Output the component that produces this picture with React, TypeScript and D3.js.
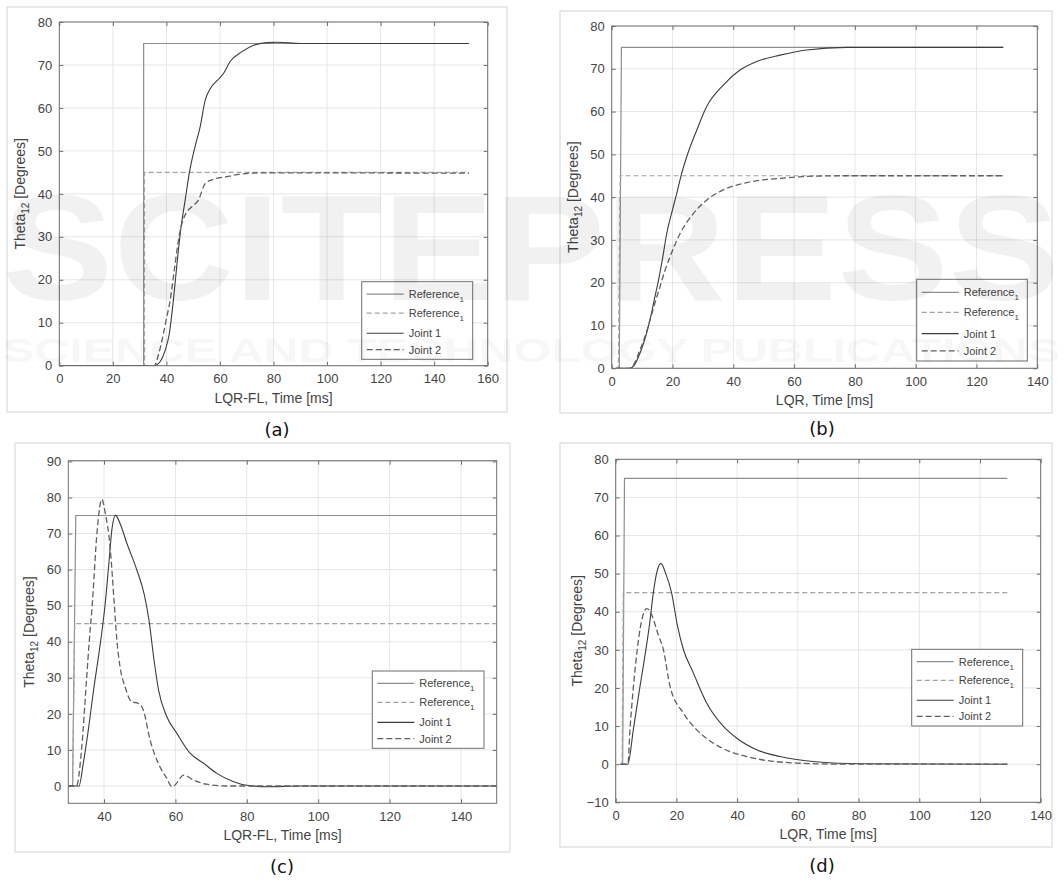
import React, { useEffect, useRef } from 'react';
import * as d3 from 'd3';

// ---- panel (a): LQR-FL, reference step at ~31.5 ms
const aRef1Time = [1, 31.5, 31.5, 153];
const aRef1 = [0, 0, 75, 75];
const aRef2Time = [1, 31.8, 31.8, 153];
const aRef2 = [0, 0, 45, 45];
const aJoint1Time = [1, 35.5, 37.5, 39.5, 41.1, 42.6, 44, 45.5, 47, 48.6, 50.7, 52.6, 54.5, 56.5, 59, 61.5, 63.8, 68.2, 72.6, 77.5, 81.3, 90, 153];
const aJoint1 = [0, 0, 0.8, 3.5, 7.5, 15.2, 24, 32.4, 38.5, 45, 51, 55.6, 61.8, 64.6, 66.4, 68.2, 70.8, 73.1, 74.6, 75.2, 75.3, 75, 75];
const aJoint2Time = [1, 35.5, 37, 38.9, 40.2, 41.4, 43, 44.2, 45.5, 47, 49.5, 51.9, 54.5, 57.6, 62.6, 67.6, 77.5, 153];
const aJoint2 = [0, 0, 2.5, 7.5, 11.5, 15.2, 22.5, 28, 32.4, 35.1, 37, 38.5, 42.4, 43.4, 44.0, 44.6, 44.9, 44.8];

// ---- panel (b): LQR
const bRef1Time = [1.5, 2.5, 3.2, 128.8];
const bRef1 = [0, 0, 75, 75];
const bRef2Time = [1.5, 2.2, 2.8, 128.8];
const bRef2 = [0, 0, 45, 45];
const bJoint1Time = [1.5, 6, 7.5, 9.3, 11, 12.6, 14, 15.4, 16.8, 18.1, 19.8, 21.4, 23, 24.7, 28, 31.2, 36.7, 42.2, 47.7, 55.4, 64.1, 77.3, 128.8];
const bJoint1 = [0, 0, 0.8, 3.5, 7, 11.3, 16, 20.6, 26, 31.5, 36.5, 40.9, 45.5, 49.5, 55.7, 61.1, 66.2, 69.7, 71.7, 73.2, 74.4, 75, 75];
const bJoint2Time = [1.5, 6, 7.5, 9.3, 11, 12.6, 14.2, 15.9, 17.5, 19.2, 22.5, 26.9, 31.2, 36.7, 44.4, 55.4, 66.3, 77, 128.8];
const bJoint2 = [0, 0, 1.2, 4.3, 7.5, 11.3, 15.2, 19.1, 22.8, 26.1, 31.5, 36.2, 39.3, 41.7, 43.4, 44.4, 44.9, 45, 45];

// ---- panel (c): LQR-FL, overshooting response
const cRef1Time = [30, 31.2, 32.1, 150];
const cRef1 = [0, 0, 75, 75];
const cRef2Time = [30, 31.2, 31.8, 150];
const cRef2 = [0, 0, 45, 45];
const cJoint1Time = [30, 33, 34.2, 35.6, 37, 39.1, 40.3, 41.3, 42.2, 43.2, 44.5, 46.4, 49.2, 51.3, 52.6, 54, 55.3, 57.6, 60.4, 64.1, 67.9, 71.6, 76.3, 80, 85.6, 94.9, 150];
const cJoint1 = [0, 0, 6.3, 15.5, 26, 40.5, 50.2, 61, 71, 75.1, 72.8, 67.3, 59.9, 53, 46, 35, 26.5, 19.2, 14.6, 9.1, 6.3, 3.5, 1.2, 0.2, -0.2, 0, 0];
const cJoint2Time = [30, 32.3, 33.7, 35.1, 35.9, 36.7, 38.1, 39.4, 40.3, 41.7, 42.9, 43.6, 44.5, 45.9, 47.7, 49.6, 51, 52.9, 55.2, 57.6, 59, 59.9, 62.3, 65, 68.7, 74.4, 150];
const cJoint2 = [0, 0, 10, 29.4, 40.5, 50.2, 71, 79.5, 76, 66.3, 50.2, 40.5, 33, 27.5, 23.4, 22.9, 21.1, 12.8, 6.3, 2.1, -0.2, 0.3, 3.0, 1.7, 0.5, 0, 0];

// ---- panel (d): LQR, overshooting response
const dRef1Time = [1.6, 2.3, 2.9, 129];
const dRef1 = [0, 0, 75, 75];
const dRef2Time = [1.6, 2.1, 2.5, 129];
const dRef2 = [0, 0, 45, 45];
const dJoint1Time = [1.6, 4, 5.8, 8, 8.9, 11.2, 12.4, 13.6, 14.9, 16.4, 18.4, 20.3, 22.3, 25.6, 30, 35.5, 39.9, 46.4, 54.1, 65.1, 81.6, 129];
const dJoint1 = [0, 0, 9, 20.4, 24.8, 37, 45, 50.5, 52.7, 50.2, 45, 36.5, 30.1, 23.9, 16, 9.9, 6.8, 3.8, 2.0, 0.7, 0.1, 0];
const dJoint2Time = [1.6, 4, 4.7, 5.8, 7.1, 8.5, 10.2, 11.3, 12.4, 14, 15.7, 17.9, 22.3, 26.7, 32.2, 37.7, 43.2, 48.6, 59.6, 75, 129];
const dJoint2 = [0, 0, 9, 20, 30.1, 37.5, 40.8, 40.2, 38, 34, 30.1, 20.4, 13.4, 9.0, 5.5, 3.3, 2.0, 1.1, 0.3, 0, 0];

const ticks0to160 = [0, 20, 40, 60, 80, 100, 120, 140, 160];
const ticks0to140 = [0, 20, 40, 60, 80, 100, 120, 140];
const ticks40to140 = [40, 60, 80, 100, 120, 140];
const ticks0to80 = [0, 10, 20, 30, 40, 50, 60, 70, 80];
const ticks0to90 = [0, 10, 20, 30, 40, 50, 60, 70, 80, 90];
const ticksM10to80 = [-10, 0, 10, 20, 30, 40, 50, 60, 70, 80];

const legendLabels = ['Reference', 'Reference', 'Joint 1', 'Joint 2'];
const legendSubs = ['1', '1', '', ''];

const zip = (t: number[], v: number[]) => t.map((x, i) => [x, v[i]] as [number, number]);

const FONT = "'Liberation Sans', Arial, Helvetica, sans-serif";

const styles = [
  { color: '#8e8e8e', dash: null, width: 1.2 },
  { color: '#a2a2a2', dash: '5,3', width: 1.2 },
  { color: '#3c3c3c', dash: null, width: 1.1 },
  { color: '#606060', dash: '6,3', width: 1.3 },
];

const panels = [
  {
    id: 'a', caption: '(a)', xlabel: 'LQR-FL, Time [ms]',
    frame: { x: 7, y: 7, w: 500, h: 405 }, plot: { x: 59.3, y: 22, w: 428.4, h: 343.7 },
    xDomain: [0, 160], xTicks: ticks0to160, yDomain: [0, 80], yTicks: ticks0to80,
    capPos: [277, 436], legend: { x: 361.7, y: 281.7, w: 111, h: 77.6 },
    series: [zip(aRef1Time, aRef1), zip(aRef2Time, aRef2), zip(aJoint1Time, aJoint1), zip(aJoint2Time, aJoint2)],
  },
  {
    id: 'b', caption: '(b)', xlabel: 'LQR, Time [ms]',
    frame: { x: 560, y: 11, w: 492, h: 402 }, plot: { x: 611.7, y: 26, w: 425.6, h: 342.3 },
    xDomain: [0, 140], xTicks: ticks0to140, yDomain: [0, 80], yTicks: ticks0to80,
    capPos: [822, 435], legend: { x: 916.7, y: 279.3, w: 110.6, h: 81.7 },
    series: [zip(bRef1Time, bRef1), zip(bRef2Time, bRef2), zip(bJoint1Time, bJoint1), zip(bJoint2Time, bJoint2)],
  },
  {
    id: 'c', caption: '(c)', xlabel: 'LQR-FL, Time [ms]',
    frame: { x: 15, y: 443, w: 495, h: 409 }, plot: { x: 68.3, y: 460.7, w: 428.4, h: 342.6 },
    xDomain: [30, 150], xTicks: ticks40to140, yDomain: [-4.8, 90.2], yTicks: ticks0to90,
    capPos: [282, 873], legend: { x: 372.3, y: 671, w: 111.7, h: 77.3 },
    series: [zip(cRef1Time, cRef1), zip(cRef2Time, cRef2), zip(cJoint1Time, cJoint1), zip(cJoint2Time, cJoint2)],
  },
  {
    id: 'd', caption: '(d)', xlabel: 'LQR, Time [ms]',
    frame: { x: 560, y: 443, w: 492, h: 404 }, plot: { x: 615.7, y: 459.3, w: 425, h: 343 },
    xDomain: [0, 140], xTicks: ticks0to140, yDomain: [-10, 80], yTicks: ticksM10to80,
    capPos: [822, 872], legend: { x: 911.7, y: 649.3, w: 111, h: 76.7 },
    series: [zip(dRef1Time, dRef1), zip(dRef2Time, dRef2), zip(dJoint1Time, dJoint1), zip(dJoint2Time, dJoint2)],
  },
];

export default function App() {
  const ref = useRef<SVGSVGElement>(null);

  useEffect(() => {
    const svg = d3.select(ref.current);
    svg.selectAll('*').remove();

    svg.append('rect').attr('width', 1064).attr('height', 885).attr('fill', '#fff');

    panels.forEach(p => {
      const { plot, frame } = p;
      svg.append('rect')
        .attr('x', frame.x).attr('y', frame.y).attr('width', frame.w).attr('height', frame.h)
        .attr('fill', 'none').attr('stroke', '#d4d4d4').attr('stroke-width', 1);

      const x = d3.scaleLinear().domain(p.xDomain).range([0, plot.w]);
      const y = d3.scaleLinear().domain(p.yDomain).range([plot.h, 0]);

      const g = svg.append('g').attr('transform', `translate(${plot.x},${plot.y})`);

      // grid
      g.selectAll('.gx').data(p.xTicks).enter().append('line')
        .attr('x1', d => x(d)).attr('x2', d => x(d)).attr('y1', 0).attr('y2', plot.h)
        .attr('stroke', '#e6e6e6').attr('stroke-width', 1);
      g.selectAll('.gy').data(p.yTicks).enter().append('line')
        .attr('y1', d => y(d)).attr('y2', d => y(d)).attr('x1', 0).attr('x2', plot.w)
        .attr('stroke', '#e6e6e6').attr('stroke-width', 1);

      const clipId = `clip-${p.id}`;
      g.append('clipPath').attr('id', clipId).append('rect').attr('width', plot.w).attr('height', plot.h);

      const line = d3.line<[number, number]>().x(d => x(d[0])).y(d => y(d[1]));
      const smooth = d3.line<[number, number]>().x(d => x(d[0])).y(d => y(d[1])).curve(d3.curveMonotoneX);

      p.series.forEach((s, i) => {
        const st = styles[i];
        g.append('path')
          .datum(s)
          .attr('clip-path', `url(#${clipId})`)
          .attr('fill', 'none')
          .attr('stroke', st.color)
          .attr('stroke-width', st.width)
          .attr('stroke-dasharray', st.dash)
          .attr('d', i < 2 ? line : smooth);
      });

      // axes: ticks inward on all four sides
      const styleAxis = (sel: any) => {
        sel.select('.domain').remove();
        sel.selectAll('line').attr('stroke', '#6e6e6e');
        sel.selectAll('text').attr('fill', '#444').style('font-family', FONT).style('font-size', '13px');
      };
      g.append('g').attr('transform', `translate(0,${plot.h})`)
        .call(d3.axisBottom(x).tickValues(p.xTicks).tickSize(-4).tickPadding(8).tickFormat(d3.format('d')))
        .call(styleAxis);
      g.append('g')
        .call(d3.axisTop(x).tickValues(p.xTicks).tickSize(-4).tickFormat(() => ''))
        .call(styleAxis);
      g.append('g')
        .call(d3.axisLeft(y).tickValues(p.yTicks).tickSize(-4).tickPadding(7).tickFormat(d3.format('d')))
        .call(styleAxis);
      g.append('g').attr('transform', `translate(${plot.w},0)`)
        .call(d3.axisRight(y).tickValues(p.yTicks).tickSize(-4).tickFormat(() => ''))
        .call(styleAxis);

      g.append('rect').attr('width', plot.w).attr('height', plot.h)
        .attr('fill', 'none').attr('stroke', '#707070').attr('stroke-width', 1);

      // axis labels
      g.append('text')
        .attr('x', plot.w / 2).attr('y', plot.h + 37)
        .attr('text-anchor', 'middle')
        .style('font-family', FONT).style('font-size', '14px').attr('fill', '#444')
        .text(p.xlabel);

      const yl = g.append('text')
        .attr('transform', `translate(-34,${plot.h / 2}) rotate(-90)`)
        .attr('text-anchor', 'middle')
        .style('font-family', FONT).style('font-size', '14px').attr('fill', '#444');
      yl.append('tspan').text('Theta');
      yl.append('tspan').attr('dy', 4).style('font-size', '10px').text('12');
      yl.append('tspan').attr('dy', -4).text(' [Degrees]');

      // legend
      const lg = svg.append('g').attr('transform', `translate(${p.legend.x},${p.legend.y})`);
      lg.append('rect').attr('width', p.legend.w).attr('height', p.legend.h)
        .attr('fill', '#fff').attr('stroke', '#6e6e6e').attr('stroke-width', 1);
      const rowFrac = [0.16, 0.405, 0.665, 0.875];
      legendLabels.forEach((lab, i) => {
        const ry = rowFrac[i] * p.legend.h;
        const st = styles[i];
        lg.append('line')
          .attr('x1', 5).attr('x2', 42).attr('y1', ry).attr('y2', ry)
          .attr('stroke', st.color).attr('stroke-width', st.width).attr('stroke-dasharray', st.dash);
        const t = lg.append('text')
          .attr('x', 47).attr('y', ry + 4)
          .style('font-family', FONT).style('font-size', '11px').attr('fill', '#444');
        t.append('tspan').text(lab);
        if (legendSubs[i]) t.append('tspan').attr('dy', 4).style('font-size', '8px').text(legendSubs[i]);
      });

      // caption
      svg.append('text')
        .attr('x', p.capPos[0]).attr('y', p.capPos[1])
        .attr('text-anchor', 'middle')
        .style('font-family', "'DejaVu Sans', Verdana, sans-serif").style('font-size', '18px').attr('fill', '#111')
        .text(p.caption);
    });

    // faint publisher watermark over the figure
    const wm = svg.append('g').attr('pointer-events', 'none').attr('fill', '#000').attr('fill-opacity', 0.055);
    wm.append('text')
      .attr('x', 2).attr('y', 300)
      .attr('textLength', 1058).attr('lengthAdjust', 'spacingAndGlyphs')
      .style('font-family', FONT).style('font-weight', 'bold').style('font-size', '150px')
      .text('SCITEPRESS');
    wm.append('text')
      .attr('x', 2).attr('y', 362)
      .attr('textLength', 1058).attr('lengthAdjust', 'spacingAndGlyphs')
      .style('font-family', FONT).style('font-weight', 'bold').style('font-size', '34px')
      .text('SCIENCE AND TECHNOLOGY PUBLICATIONS');
  }, []);

  return (
    <svg ref={ref} width={1064} height={885} style={{ position: 'absolute', left: 0, top: 0 }} />
  );
}
